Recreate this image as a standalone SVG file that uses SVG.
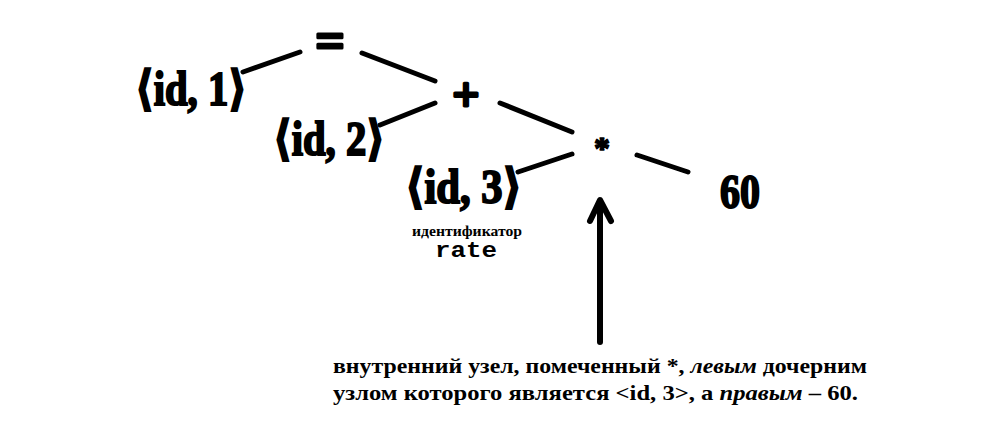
<svg xmlns="http://www.w3.org/2000/svg" width="1000" height="440" viewBox="0 0 1000 440">
<style>
.n{font-family:'Liberation Serif','Times New Roman',Times,'DejaVu Serif',serif;font-weight:bold;fill:#000;stroke:#000;stroke-width:2}
.op{font-family:'Liberation Serif','Times New Roman',Times,'DejaVu Serif',serif;font-weight:bold;fill:#000}
.opb{stroke:#000;stroke-width:3;stroke-linejoin:round}
.e{stroke:#000;stroke-width:5;stroke-linecap:round;fill:none}
.cap{font-family:'Liberation Serif','Times New Roman',Times,'DejaVu Serif',serif;font-weight:bold;font-size:21px;fill:#000}
.it{font-style:italic}
.mono{font-family:'Liberation Mono','Courier New','DejaVu Sans Mono',monospace;font-weight:bold;fill:#000}
</style>
<rect width="1000" height="440" fill="#fff"/>
<g id="connectors">
<line class="e" x1="300" y1="52" x2="243" y2="72"/>
<line class="e" x1="362" y1="53" x2="435" y2="81"/>
<line class="e" x1="435" y1="103" x2="380" y2="125"/>
<line class="e" x1="500" y1="103" x2="572" y2="132"/>
<line class="e" x1="572" y1="154" x2="518" y2="172"/>
<line class="e" x1="637" y1="155" x2="688" y2="172"/>
<line x1="600" y1="342" x2="600" y2="202" stroke="#000" stroke-width="6" stroke-linecap="round"/>
<path d="M590,221 L600,200 L611,221" fill="none" stroke="#000" stroke-width="6" stroke-linejoin="round" stroke-linecap="round"/>
</g>
<g id="n-eq"><text class="op opb" x="330" y="58" font-size="52" text-anchor="middle">=</text></g>
<g id="n-id1"><text class="n" x="135" y="105" font-size="48" textLength="112" lengthAdjust="spacingAndGlyphs">⟨id, 1⟩</text></g>
<g id="n-plus"><text class="op opb" x="466" y="111" font-size="48" text-anchor="middle">+</text></g>
<g id="n-id2"><text class="n" x="273" y="155" font-size="48" textLength="112" lengthAdjust="spacingAndGlyphs">⟨id, 2⟩</text></g>
<g id="n-star"><text class="op opb" x="602" y="159" font-size="32" text-anchor="middle" style="stroke-width:1.5">*</text></g>
<g id="n-id3"><text class="n" x="405" y="203" font-size="48" textLength="117" lengthAdjust="spacingAndGlyphs">⟨id, 3⟩</text></g>
<g id="n-60"><text class="n" x="720" y="208" font-size="48" textLength="40" lengthAdjust="spacingAndGlyphs">60</text></g>
<g id="label-rate">
<text class="op" x="412" y="236" font-size="14" textLength="110" lengthAdjust="spacingAndGlyphs">идентификатор</text>
<text class="mono" x="435" y="257" font-size="22" textLength="62" lengthAdjust="spacingAndGlyphs">rate</text>
</g>
<g id="caption">
<text class="cap" x="333" y="373" textLength="534" lengthAdjust="spacingAndGlyphs">внутренний узел, помеченный *, <tspan class="it">левым</tspan> дочерним</text>
<text class="cap" x="333" y="400" textLength="525" lengthAdjust="spacingAndGlyphs">узлом которого является &lt;id, 3&gt;, а <tspan class="it">правым</tspan> – 60.</text>
</g>
</svg>
